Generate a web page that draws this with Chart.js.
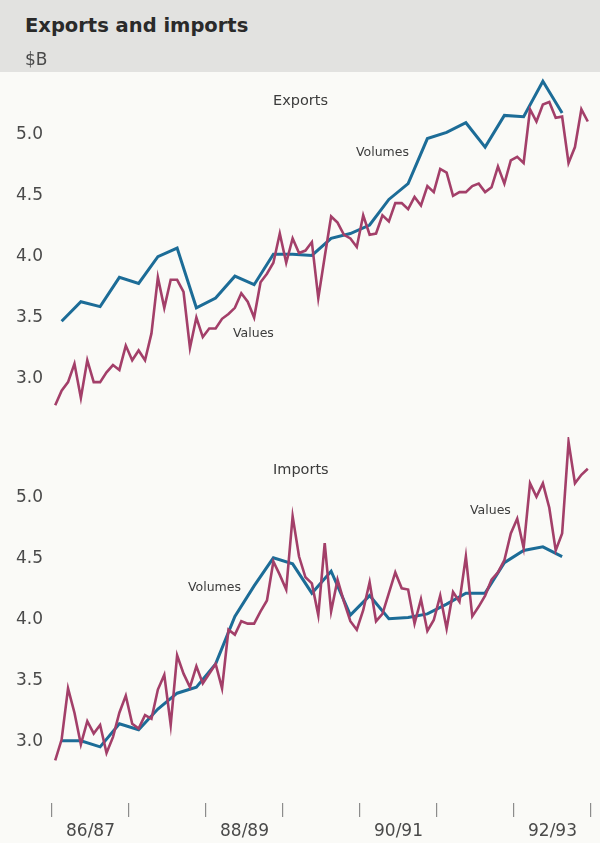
<!DOCTYPE html>
<html><head><meta charset="utf-8">
<script src="https://cdn.jsdelivr.net/npm/chart.js@4.4.1/dist/chart.umd.min.js"></script>
<style>
html,body{margin:0;padding:0;}
body{width:600px;height:843px;position:relative;background:#fafaf7;overflow:hidden;font-family:"DejaVu Sans",sans-serif;}
#band{position:absolute;left:0;top:0;width:600px;height:72px;background:#e2e2e0;}
.t{position:absolute;line-height:1;white-space:nowrap;color:#3c3c3c;}
canvas{position:absolute;left:0;}
</style></head><body>
<div id="band"></div>
<canvas id="cExp" width="600" height="401" style="top:44px"></canvas>
<canvas id="cImp" width="600" height="436" style="top:407px"></canvas>
<div class="t" style="left:25px;top:15.5px;font-size:19.5px;font-weight:bold;color:#2a2a2a">Exports and imports</div>
<div class="t" style="left:25px;top:50.6px;font-size:17px;color:#4a4a4a">$B</div>
<div class="t" style="left:273px;top:92.7px;font-size:14.5px">Exports</div>
<div class="t" style="left:273px;top:461.7px;font-size:14.5px">Imports</div>
<div class="t" style="left:356px;top:146.4px;font-size:12.5px">Volumes</div>
<div class="t" style="left:233px;top:327.4px;font-size:12.5px">Values</div>
<div class="t" style="left:188px;top:581.4px;font-size:12.5px">Volumes</div>
<div class="t" style="left:470px;top:504.4px;font-size:12.5px">Values</div>
<script>
// Monthly values, July 1986 .. June 1993 ($B)
const exportsValues = [2.78,2.90,2.97,3.12,2.84,3.15,2.97,2.97,3.05,3.11,3.07,3.27,
  3.15,3.23,3.15,3.37,3.83,3.58,3.81,3.81,3.71,3.25,3.50,3.34,
  3.41,3.41,3.49,3.53,3.58,3.70,3.63,3.50,3.79,3.86,3.95,4.19,
  3.95,4.15,4.03,4.05,4.12,3.66,4.00,4.33,4.28,4.18,4.15,4.08,
  4.34,4.18,4.19,4.34,4.29,4.44,4.44,4.39,4.49,4.42,4.58,4.53,
  4.72,4.69,4.50,4.53,4.53,4.58,4.60,4.53,4.57,4.74,4.60,4.79,
  4.82,4.77,5.21,5.11,5.25,5.27,5.14,5.15,4.77,4.90,5.21,5.11];
const importsValues = [2.85,3.02,3.44,3.24,2.98,3.17,3.07,3.14,2.91,3.04,3.24,3.38,
  3.15,3.11,3.22,3.19,3.43,3.55,3.14,3.71,3.56,3.45,3.62,3.48,
  3.56,3.64,3.44,3.92,3.88,3.99,3.97,3.97,4.07,4.16,4.48,4.37,
  4.25,4.85,4.52,4.35,4.30,4.04,4.63,4.07,4.33,4.15,3.99,3.92,
  4.08,4.31,3.99,4.05,4.22,4.39,4.26,4.25,3.97,4.17,3.91,4.00,
  4.20,3.93,4.23,4.15,4.52,4.03,4.11,4.20,4.33,4.39,4.49,4.71,
  4.83,4.59,5.12,5.01,5.12,4.92,4.57,4.71,5.46,5.12,5.19,5.24];
// Quarterly volumes, Sep qtr 1986 .. Mar qtr 1993
const exportsVolumes = [3.47,3.63,3.59,3.83,3.78,4.00,4.07,3.58,3.66,3.84,3.77,4.02,4.02,
  4.01,4.15,4.19,4.26,4.47,4.60,4.97,5.02,5.10,4.90,5.16,5.15,5.44,5.18];
const importsVolumes = [3.01,3.01,2.96,3.15,3.10,3.27,3.40,3.45,3.64,4.03,4.28,4.51,4.46,
  4.22,4.40,4.04,4.20,4.01,4.02,4.05,4.13,4.22,4.22,4.47,4.57,4.60,4.52];
const fiscalYears = ['86/87','87/88','88/89','89/90','90/91','91/92','92/93'];
const shownYears = ['86/87','88/89','90/91','92/93'];
const yTickValues = [3.0,3.5,4.0,4.5,5.0];

const VALUE_COLOR = '#a33f69';
const VOLUME_COLOR = '#1c6c97';
Chart.defaults.font.family = "'DejaVu Sans', sans-serif";
Chart.defaults.color = '#4a4a4a';

const monthly = arr => arr.map((v, i) => ({x: i + 0.5, y: v}));
const quarterly = arr => arr.map((v, q) => ({x: q * 3 + 1.5, y: v}));

function datasets(values, volumes) {
  return [
    {data: monthly(values), borderColor: VALUE_COLOR, borderWidth: 2.6, pointRadius: 0, tension: 0, fill: false},
    {data: quarterly(volumes), borderColor: VOLUME_COLOR, borderWidth: 3, pointRadius: 0, tension: 0, fill: false}
  ];
}

function yAxis(min, max) {
  return {
    type: 'linear', min: min, max: max,
    afterBuildTicks: a => { a.ticks = yTickValues.map(v => ({value: v})); },
    afterFit: a => { a.width = 52; },
    grid: {display: false, drawTicks: false},
    border: {display: false},
    ticks: {padding: 9, font: {size: 17}, color: '#4a4a4a', callback: v => Number(v).toFixed(1)}
  };
}

const nMonths = fiscalYears.length * 12;

new Chart(document.getElementById('cExp'), {
  type: 'line',
  data: {datasets: datasets(exportsValues, exportsVolumes)},
  options: {
    responsive: false, animation: false, devicePixelRatio: 1,
    layout: {padding: {left: 0, right: 9, top: 30, bottom: 30}},
    plugins: {legend: {display: false}, tooltip: {enabled: false}},
    scales: {
      x: {type: 'linear', min: 0, max: nMonths, display: false},
      y: yAxis(2.7, 5.5)
    }
  }
});

new Chart(document.getElementById('cImp'), {
  type: 'line',
  data: {datasets: datasets(importsValues, importsVolumes)},
  options: {
    responsive: false, animation: false, devicePixelRatio: 1,
    layout: {padding: {left: 0, right: 9, top: 30, bottom: 0}},
    plugins: {legend: {display: false}, tooltip: {enabled: false}},
    scales: {
      x: {
        type: 'linear', min: 0, max: nMonths,
        afterBuildTicks: a => {
          const t = [];
          for (let m = 0; m <= nMonths; m += 6) t.push({value: m});
          a.ticks = t;
        },
        afterFit: a => { a.height = 40; },
        border: {display: false},
        grid: {
          drawOnChartArea: false, drawTicks: true, tickLength: 14, lineWidth: 1.2,
          color: c => (c.tick && c.tick.value % 12 === 0) ? '#8c8c8c' : 'rgba(0,0,0,0)'
        },
        ticks: {
          autoSkip: false, maxRotation: 0, padding: 4, font: {size: 17}, color: '#4a4a4a',
          callback: v => {
            if (v % 12 !== 6) return '';
            const name = fiscalYears[(v - 6) / 12];
            return shownYears.includes(name) ? name : '';
          }
        }
      },
      y: yAxis(2.5, 5.5)
    }
  }
});
</script>
</body></html>
